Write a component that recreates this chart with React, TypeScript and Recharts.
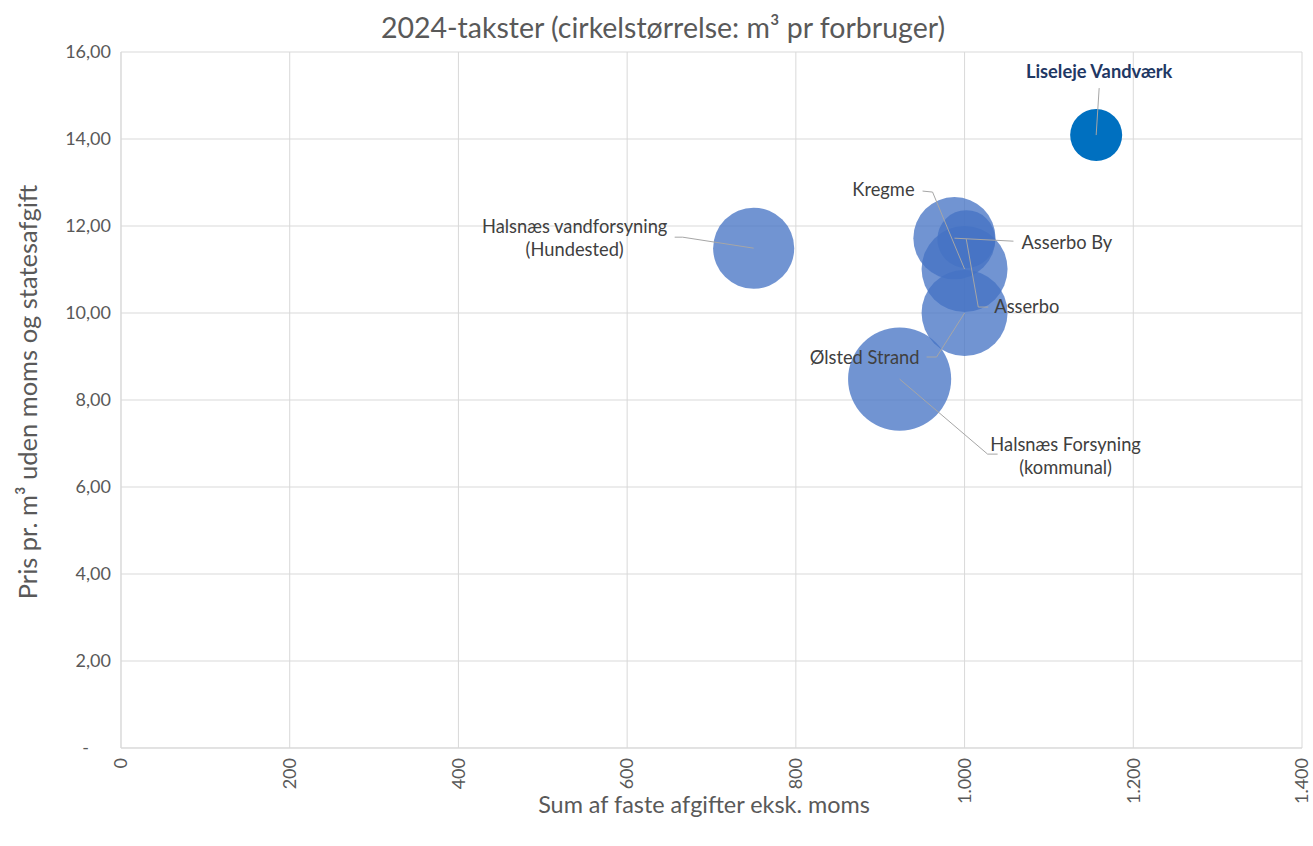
import React from 'react';
import { ScatterChart, Scatter, XAxis, YAxis, ZAxis, CartesianGrid } from 'recharts';

// ---- data ----
const utilities = [
  'Halsnæs vandforsyning\n(Hundested)',
  'Kregme',
  'Asserbo By',
  'Asserbo',
  'Ølsted Strand',
  'Halsnæs Forsyning\n(kommunal)',
];
const fixedFees = [750, 1000, 988, 1002, 1000, 923];
const pricePerM3 = [11.49, 11.01, 11.72, 11.7, 10.0, 8.48];
const m3PerConsumer = [73, 82, 75, 37, 82, 118];

const highlightName = 'Liseleje Vandværk';
const highlightFee = 1156;
const highlightPrice = 14.09;
const highlightM3 = 30;

const xTicks = [0, 200, 400, 600, 800, 1000, 1200, 1400];
const yTicks = [0, 2, 4, 6, 8, 10, 12, 14, 16];

const titleText = '2024-takster (cirkelstørrelse: m³ pr forbruger)';
const xTitle = 'Sum af faste afgifter eksk. moms';
const yTitle = 'Pris pr. m³ uden moms og statesafgift';

// ---- label layout (pixel offsets from bubble centre) ----
type Layout = { tx: number; ty: number; anchor: 'start' | 'middle' | 'end'; path: [number, number][] };
const labelLayout: Record<string, Layout> = {
  'Halsnæs vandforsyning\n(Hundested)': { tx: -179, ty: -22, anchor: 'middle', path: [[-79, -11], [-71, -11], [0, 0]] },
  Kregme: { tx: -50, ty: -79, anchor: 'end', path: [[-42, -78], [-32, -77], [0, 0]] },
  'Asserbo By': { tx: 67, ty: 4, anchor: 'start', path: [[59, 3], [0, 0]] },
  Asserbo: { tx: 28, ty: 68, anchor: 'start', path: [[22, 68], [12, 68], [0, 0]] },
  'Ølsted Strand': { tx: -45, ty: 45, anchor: 'end', path: [[-38, 44], [-28, 44], [0, 0]] },
  'Halsnæs Forsyning\n(kommunal)': { tx: 166, ty: 65, anchor: 'middle', path: [[0, 0], [88, 75], [98, 75]] },
  'Liseleje Vandværk': { tx: 3, ty: -63, anchor: 'middle', path: [[0, 0], [3, -47]] },
};

const FONT = 'Lato, "Open Sans", sans-serif';
const GREY = '#595959';

const mainData = utilities.map((name, i) => ({ name, x: fixedFees[i], y: pricePerM3[i], z: m3PerConsumer[i] }));
const highlightData = [{ name: highlightName, x: highlightFee, y: highlightPrice, z: highlightM3 }];
const allData = [...mainData, ...highlightData];

const fmtX = (v: number) => (v >= 1000 ? `${Math.floor(v / 1000)}.${String(v % 1000).padStart(3, '0')}` : String(v));
const fmtY = (v: number) => (v === 0 ? '-' : v.toFixed(2).replace('.', ','));

const XTick = (props: any) => {
  const { x, y, payload } = props;
  return (
    <text
      x={x}
      y={y}
      transform={`rotate(-90, ${x}, ${y})`}
      textAnchor="end"
      dy="0.35em"
      fill={GREY}
      fontSize={18}
      fontFamily={FONT}
    >
      {fmtX(payload.value)}
    </text>
  );
};

const YTick = (props: any) => {
  const { x, y, payload } = props;
  const v = payload.value;
  return (
    <text x={v === 0 ? x - 22 : x} y={y} textAnchor="end" dy="0.35em" fill={GREY} fontSize={18} fontFamily={FONT}>
      {fmtY(v)}
    </text>
  );
};

const bubbleShape = (color: string, opacity: number) => (p: any) => {
  const r = p.width ? p.width / 2 : Math.sqrt((p.size || 0) / Math.PI);
  return <circle cx={p.cx} cy={p.cy} r={r} fill={color} fillOpacity={opacity} />;
};

const LabelShape = (p: any) => {
  const name: string = p.payload?.name ?? p.name;
  const lay = labelLayout[name];
  if (!lay) return <g />;
  const { cx, cy } = p;
  const pts = lay.path.map(([dx, dy]) => `${cx + dx},${cy + dy}`).join(' ');
  const lines = name.split('\n');
  const isHighlight = name === highlightName;
  return (
    <g>
      <polyline points={pts} fill="none" stroke="#A6A6A6" strokeWidth={1} />
      {lines.map((ln, i) => (
        <text
          key={i}
          x={cx + lay.tx}
          y={cy + lay.ty + i * 23}
          dy="0.35em"
          textAnchor={lay.anchor}
          fontSize={isHighlight ? 18.3 : 18.3}
          fontWeight={isHighlight ? 700 : 400}
          fill={isHighlight ? '#1F3864' : '#404040'}
          fontFamily={FONT}
        >
          {ln}
        </text>
      ))}
    </g>
  );
};

export default function App() {
  return (
    <div style={{ position: 'absolute', left: 0, top: 0, width: 1313, height: 846, background: '#fff', fontFamily: FONT }}>
      <ScatterChart width={1313} height={846} margin={{ top: 52, right: 11, bottom: 0, left: 0 }}>
        <CartesianGrid stroke="#D9D9D9" strokeWidth={1} />
        <XAxis
          type="number"
          dataKey="x"
          domain={[0, 1400]}
          ticks={xTicks}
          interval={0}
          height={98}
          tick={<XTick />}
          tickLine={false}
          tickSize={0}
          tickMargin={10}
          axisLine={{ stroke: '#D9D9D9' }}
          allowDataOverflow
        />
        <YAxis
          type="number"
          dataKey="y"
          domain={[0, 16]}
          ticks={yTicks}
          interval={0}
          width={121}
          tick={<YTick />}
          tickLine={false}
          tickSize={0}
          tickMargin={10}
          axisLine={{ stroke: '#D9D9D9' }}
          allowDataOverflow
        />
        <ZAxis type="number" dataKey="z" domain={[0, 120]} range={[0, Math.PI * 52 * 52]} />
        <Scatter data={mainData} shape={bubbleShape('#4472C4', 0.76)} isAnimationActive={false} />
        <Scatter data={highlightData} shape={bubbleShape('#0070C0', 1)} isAnimationActive={false} />
        <Scatter data={allData} shape={LabelShape} isAnimationActive={false} />
      </ScatterChart>
      <div
        style={{
          position: 'absolute',
          left: 0,
          top: 11,
          width: 1326,
          textAlign: 'center',
          fontSize: 28.5,
          lineHeight: '32px',
          color: GREY,
          whiteSpace: 'nowrap',
        }}
      >
        {titleText}
      </div>
      <div
        style={{
          position: 'absolute',
          left: 27,
          top: 392,
          transform: 'translate(-50%, -50%) rotate(-90deg)',
          fontSize: 25.5,
          lineHeight: '30px',
          color: GREY,
          whiteSpace: 'nowrap',
        }}
      >
        {yTitle}
      </div>
      <div
        style={{
          position: 'absolute',
          left: 704,
          top: 804,
          transform: 'translate(-50%, -50%)',
          fontSize: 23.4,
          lineHeight: '28px',
          color: GREY,
          whiteSpace: 'nowrap',
        }}
      >
        {xTitle}
      </div>
    </div>
  );
}
